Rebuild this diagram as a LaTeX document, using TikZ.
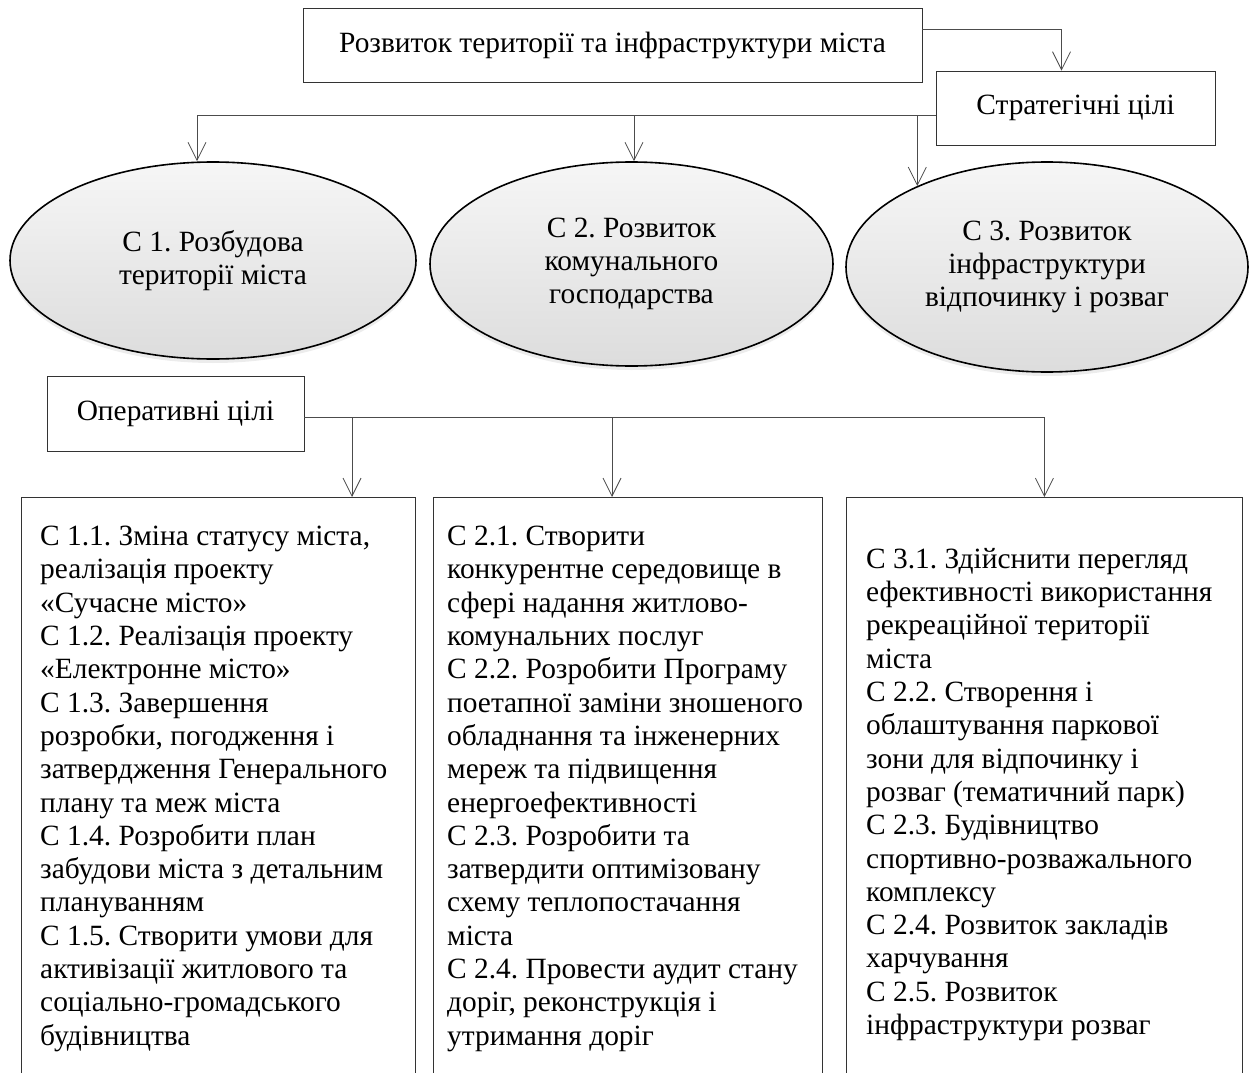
\documentclass[tikz,border=0pt]{standalone}
\usepackage{fontspec}
\setmainfont{Liberation Serif}
\usetikzlibrary{shapes.geometric,shadows,arrows.meta}
\frenchspacing
\begin{document}
\begin{tikzpicture}[x=1pt,y=-1pt,font=\fontsize{29.4}{33.3}\selectfont,
  box/.style={draw=black!80,line width=0.9pt,inner sep=0pt},
  goal/.style={ellipse,draw,line width=1.6pt,inner sep=0pt,align=center,top color=gray!7,bottom color=gray!27,
    drop shadow={shadow xshift=0pt,shadow yshift=-4pt,opacity=0.15}},
  txt/.style={anchor=north west,align=left,inner sep=0pt},
  link/.style={draw=black!70,line width=0.8pt},
  arr/.style={link,-{Straight Barb[length=18pt,width=18pt]}}]
  \useasboundingbox (0,0) rectangle (1250,1073);
  \clip (0,0) rectangle (1250,1073);
  \node[box,minimum width=619,minimum height=74] (top) at (612.5,45) {Розвиток території та інфраструктури міста};
  \node[box,minimum width=279,minimum height=74] (strat) at (1075.5,108) {Стратегічні цілі};
  \node[goal,minimum width=406,minimum height=197] (e1) at (213,260.5) {С 1. Розбудова\\території міста};
  \node[goal,minimum width=403,minimum height=204] (e2) at (631.5,264) {С 2. Розвиток\\комунального\\господарства};
  \node[goal,minimum width=402,minimum height=210] (e3) at (1047,267) {С 3. Розвиток\\інфраструктури\\відпочинку і розваг};
  \node[box,minimum width=257,minimum height=75] (oper) at (175.5,413.5) {Оперативні цілі};
  \node[box,anchor=north west,minimum width=394,minimum height=600] (ob1) at (21,497) {};
  \node[box,anchor=north west,minimum width=389,minimum height=600] (ob2) at (433,497) {};
  \node[box,anchor=north west,minimum width=396,minimum height=600] (ob3) at (846,497) {};
  \node[txt] (t1) at ([shift={(19pt,-29pt)}]ob1.north west) {С 1.1. Зміна статусу міста,\\реалізація проекту\\«Сучасне місто»\\С 1.2. Реалізація проекту\\«Електронне місто»\\С 1.3. Завершення\\розробки, погодження і\\затвердження Генерального\\плану та меж міста\\С 1.4. Розробити план\\забудови міста з детальним\\плануванням\\С 1.5. Створити умови для\\активізації житлового та\\соціально-громадського\\будівництва};
  \node[txt] (t2) at ([shift={(14pt,-29pt)}]ob2.north west) {С 2.1. Створити\\конкурентне середовище в\\сфері надання житлово-\\комунальних послуг\\С 2.2. Розробити Програму\\поетапної заміни зношеного\\обладнання та інженерних\\мереж та підвищення\\енергоефективності\\С 2.3. Розробити та\\затвердити оптимізовану\\схему теплопостачання\\міста\\С 2.4. Провести аудит стану\\доріг, реконструкція і\\утримання доріг};
  \node[txt] (t3) at ([shift={(20pt,-51pt)}]ob3.north west) {С 3.1. Здійснити перегляд\\ефективності використання\\рекреаційної території\\міста\\С 2.2. Створення і\\облаштування паркової\\зони для відпочинку і\\розваг (тематичний парк)\\С 2.3. Будівництво\\спортивно-розважального\\комплексу\\С 2.4. Розвиток закладів\\харчування\\С 2.5. Розвиток\\інфраструктури розваг};
  \draw[arr] ([yshift=16pt]top.east) -| ([xshift=-14pt]strat.north);
  \coordinate (s0) at ([yshift=-7pt]strat.west);
  \coordinate (s1) at (197,115);
  \coordinate (s2) at (634,115);
  \draw[link] (s1) -- (s0);
  \draw[arr] (s1) -- (s1 |- e1.north);
  \draw[arr] (s2) -- (s2 |- e2.north);
  \draw[arr] (e3.148 |- s0) -- (e3.148);
  \coordinate (o0) at ([yshift=-3.5pt]oper.east);
  \coordinate (o1) at (352,417);
  \coordinate (o2) at (612,417);
  \coordinate (o3) at (o0 -| ob3.north);
  \draw[link] (o0) -- (o3);
  \draw[arr] (o1) -- (o1 |- ob1.north);
  \draw[arr] (o2) -- (o2 |- ob2.north);
  \draw[arr] (o3) -- (ob3.north);
\end{tikzpicture}
\end{document}
